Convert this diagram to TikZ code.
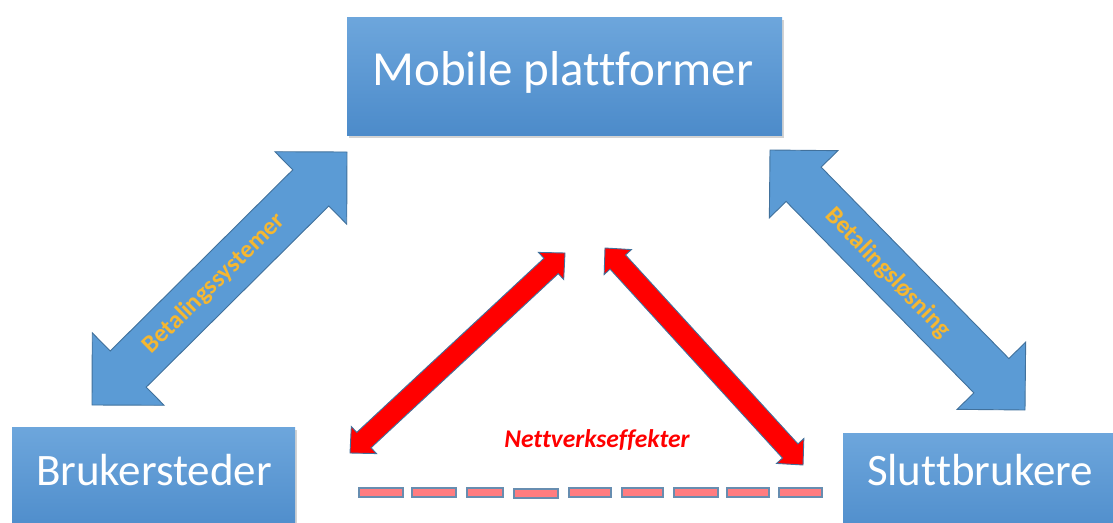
\documentclass[tikz,border=0pt]{standalone}
\usepackage{fontspec}
\setmainfont[Ligatures=NoCommon]{Carlito}
\usetikzlibrary{calc,shadows}
\definecolor{boxtop}{HTML}{6DA6DC}
\definecolor{boxbot}{HTML}{4C8BCA}
\definecolor{arrblue}{HTML}{5B9BD5}
\definecolor{outl}{HTML}{41719C}
\definecolor{gold}{HTML}{F5B731}
\definecolor{salmon}{HTML}{FF7C80}
\newcommand\dblarrow[7]{%
  \coordinate (#1h1) at ($(#3)!#7!(#4)$);
  \coordinate (#1h2) at ($(#4)!#7!(#3)$);
  \path[#2] (#3) -- ($(#1h1)!#6!90:(#4)$) -- ($(#1h1)!#5!90:(#4)$)
    -- ($(#1h2)!#5!-90:(#3)$) -- ($(#1h2)!#6!-90:(#3)$) -- (#4)
    -- ($(#1h2)!#6!90:(#3)$) -- ($(#1h2)!#5!90:(#3)$)
    -- ($(#1h1)!#5!-90:(#4)$) -- ($(#1h1)!#6!-90:(#4)$) -- cycle;
}
\tikzset{
  box/.style={rectangle, inner sep=0pt, top color=boxtop, bottom color=boxbot, draw=none,
    drop shadow={shadow xshift=1.5pt, shadow yshift=-2.5pt, opacity=0.35}},
  boxtext/.style={text=white, anchor=base, inner sep=0pt},
  bluearrow/.style={fill=arrblue, draw=outl, line width=0.9pt, line join=miter},
  redarrow/.style={fill=red, draw=outl, line width=0.9pt, line join=miter},
  dashbox/.style={fill=salmon, draw=outl!80, line width=1.1pt},
  arrlabel/.style={text=gold, font=\bfseries\fontsize{25}{29}\selectfont, inner sep=0pt},
}
\begin{document}
\begin{tikzpicture}[x=1pt, y=-1pt]
\useasboundingbox (0,0) rectangle (1113,522);
\clip (0,0) rectangle (1113,522);
% boxes
\node[box, minimum width=435pt, minimum height=118pt] (top) at (564.5,76) {};
\node[box, minimum width=283pt, minimum height=110pt] (left) at (153.5,482) {};
\node[box, minimum width=282pt, minimum height=110pt] (right) at (984,488) {};
\node[boxtext, font=\fontsize{49}{56}\selectfont] (toptext) at (563,85) {Mobile plattformer};
\node[boxtext, font=\fontsize{45}{52}\selectfont] (lefttext) at (154,485) {Brukersteder};
\node[boxtext, font=\fontsize{45}{52}\selectfont] (righttext) at (980,485) {Sluttbrukere};
% blue arrows
\coordinate (la1) at (92,405);
\coordinate (la2) at (347,152);
\dblarrow{la}{bluearrow}{la1}{la2}{25.5pt}{51pt}{51pt}
\coordinate (ra1) at (770,150);
\coordinate (ra2) at (1025,410);
\dblarrow{ra}{bluearrow}{ra1}{ra2}{24.5pt}{48pt}{48pt}
\node[arrlabel, rotate=44.5] (lal) at (214,284) {Betalingssystemer};
\node[arrlabel, rotate=-46] (ral) at (888,273) {Betalingsløsning};
% red arrows
\coordinate (lr1) at (350,453);
\coordinate (lr2) at (565,253);
\dblarrow{lr}{redarrow}{lr1}{lr2}{10.5pt}{18.5pt}{19pt}
\coordinate (rr1) at (605,248);
\coordinate (rr2) at (803,465);
\dblarrow{rr}{redarrow}{rr1}{rr2}{10.5pt}{18.5pt}{19pt}
\node[text=red, anchor=base, inner sep=0pt, font=\bfseries\itshape\fontsize{25.5}{30}\selectfont] (net) at (597,447) {Nettverkseffekter};
% dashes
\path[dashbox] (359,488) rectangle (403,497);
\path[dashbox] (412,488) rectangle (456,497);
\path[dashbox] (467,488) rectangle (503,497);
\path[dashbox] (514,489) rectangle (558,498);
\path[dashbox] (569,488) rectangle (611,497);
\path[dashbox] (622,488) rectangle (663,497);
\path[dashbox] (674,488) rectangle (718,497);
\path[dashbox] (727,488) rectangle (769,497);
\path[dashbox] (779,488) rectangle (822,497);
\end{tikzpicture}
\end{document}
